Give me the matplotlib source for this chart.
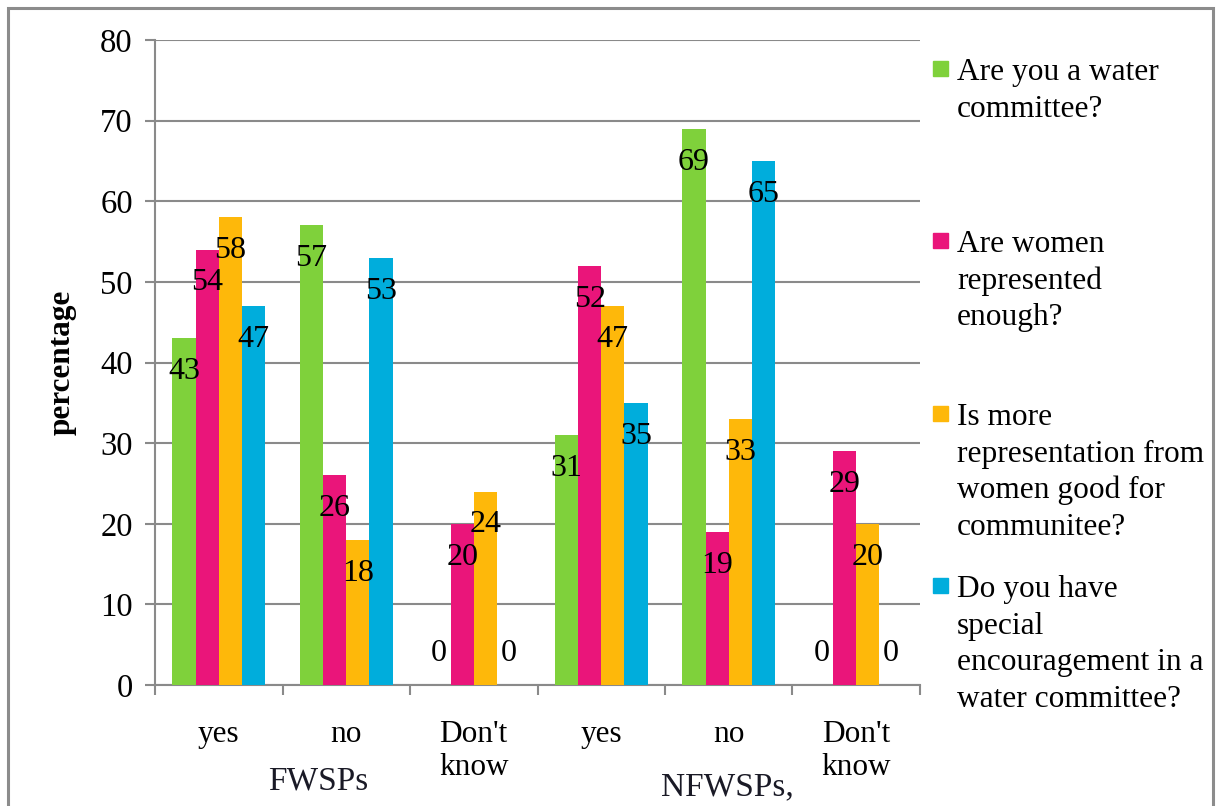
import matplotlib.pyplot as plt
from matplotlib.patches import Rectangle
import numpy as np

# answers per category, two service-provider groups of three answers each
categories = ["yes", "no", "Don't\nknow", "yes", "no", "Don't\nknow"]
groups = ["FWSPs", "NFWSPs,"]

series_names = [
    "Are you a water\ncommittee?",
    "Are women\nrepresented\nenough?",
    "Is more\nrepresentation from\nwomen good for\ncommunitee?",
    "Do you have\nspecial\nencouragement in a\nwater committee?",
]
water_committee = [43, 57, 0, 31, 69, 0]
women_enough = [54, 26, 20, 52, 19, 29]
more_representation = [58, 18, 24, 47, 33, 20]
special_encouragement = [47, 53, 0, 35, 65, 0]

colors = ["#7FD13B", "#EA157A", "#FEB80A", "#00ADDC"]
grid_grey = "#8A8A8A"

plt.rcParams['font.family'] = ['Liberation Serif', 'DejaVu Serif']

W, H = 1220, 806
fig = plt.figure(figsize=(W / 100, H / 100), dpi=100)
ax = fig.add_axes([155 / W, 1 - 685 / H, (920 - 155) / W, (685 - 40) / H])

all_series = [water_committee, women_enough, more_representation, special_encouragement]
x = np.arange(len(categories))
bw = 0.182
for i, vals in enumerate(all_series):
    pos = x + (i - 1.5) * bw
    ax.bar(pos, vals, bw, color=colors[i], zorder=3)
    for px, v in zip(pos, vals):
        # labels sit inside the top of the bar, zeros just above the axis
        off = 23 if v == 0 else -24
        ax.annotate(str(v), (px, v), xytext=(0, off), textcoords="offset points",
                    ha="center", va="center", fontsize=23, zorder=4)

ax.set_xlim(-0.5, len(categories) - 0.5)
ax.set_ylim(0, 80)
ax.set_yticks(range(0, 81, 10))
ax.yaxis.grid(True, color=grid_grey, linewidth=1.5, zorder=0)
ax.tick_params(axis="y", labelsize=23.5, length=7, width=1.5, color=grid_grey, pad=9)

# boundary ticks between categories, labels at the centres
ax.set_xticks(np.arange(-0.5, len(categories), 1.0))
ax.set_xticklabels([])
ax.tick_params(axis="x", which="major", length=7, width=1.5, color=grid_grey)
ax.set_xticks(x, minor=True)
ax.set_xticklabels(categories, minor=True, fontsize=22.5, linespacing=1.18)
ax.tick_params(axis="x", which="minor", length=0, pad=25)

for s in ["top", "right"]:
    ax.spines[s].set_visible(False)
for s in ["left", "bottom"]:
    ax.spines[s].set_color(grid_grey)
    ax.spines[s].set_linewidth(1.5)

fig.text(62 / W, 1 - 362 / H, "percentage", rotation=90, fontsize=22.5,
         fontweight="bold", ha="center", va="center")

ax.text(0.78, -0.150, groups[0], transform=ax.get_xaxis_transform(),
        ha="center", va="center", fontsize=24, color="#1a1a26")
ax.text(3.99, -0.158, groups[1], transform=ax.get_xaxis_transform(),
        ha="center", va="center", fontsize=24, color="#1a1a26")

# legend drawn by hand so the swatch lines up with the first line of text
first_baselines = [80, 252, 425, 597]
step = 36.7
for name, col, y0 in zip(series_names, colors, first_baselines):
    fig.patches.append(Rectangle((933 / W, 1 - (y0 - 4) / H), 15 / W, 15 / H,
                                 transform=fig.transFigure, color=col))
    for k, line in enumerate(name.split("\n")):
        fig.text(957 / W, 1 - (y0 + k * step) / H, line, fontsize=22.6,
                 ha="left", va="baseline")

fig.patches.append(Rectangle((8 / W, -0.01), 1205 / W, 1 - 8 / H + 0.01,
                             transform=fig.transFigure, fill=False,
                             edgecolor="#8C8C8C", linewidth=2.2))

fig.savefig("out.png", dpi=100)
